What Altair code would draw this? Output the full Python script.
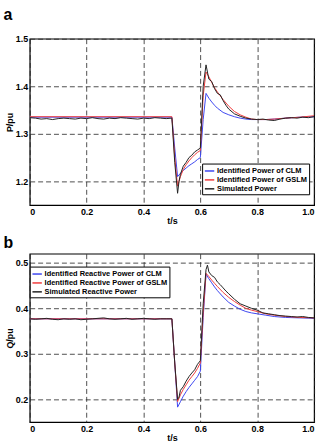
import altair as alt
import pandas as pd

# ---------------- data ----------------
t_model = [0.0, 0.5, 0.51, 0.52, 0.53, 0.54, 0.55, 0.56, 0.57, 0.58, 0.59, 0.6,
           0.61, 0.62, 0.63, 0.64, 0.65, 0.66, 0.68, 0.7, 0.72, 0.74, 0.76, 0.78,
           0.8, 0.83, 0.86, 0.9, 0.95, 1.0]

t_sim = [0.0, 0.02, 0.04, 0.06, 0.08, 0.1, 0.12, 0.14, 0.16, 0.18, 0.2, 0.22,
         0.24, 0.26, 0.28, 0.3, 0.32, 0.34, 0.36, 0.38, 0.4, 0.42, 0.44, 0.46, 0.48,
         0.5, 0.51, 0.52, 0.525, 0.53, 0.54, 0.55, 0.56, 0.57, 0.58, 0.59, 0.6,
         0.61, 0.62, 0.625, 0.63, 0.64, 0.65, 0.66, 0.67, 0.68, 0.69, 0.7, 0.72,
         0.74, 0.76, 0.78, 0.8, 0.82, 0.84, 0.86, 0.88, 0.9, 0.92, 0.94, 0.96, 0.98, 1.0]

p_clm = [1.335, 1.335, 1.27, 1.21, 1.217, 1.223, 1.228, 1.233, 1.237, 1.241, 1.246, 1.25,
         1.33, 1.385, 1.375, 1.367, 1.36, 1.354, 1.345, 1.34, 1.336, 1.333, 1.331, 1.33,
         1.33, 1.33, 1.331, 1.333, 1.335, 1.336]
p_gslm = [1.336, 1.336, 1.25, 1.19, 1.21, 1.225, 1.235, 1.243, 1.25, 1.256, 1.261, 1.265,
          1.38, 1.43, 1.42, 1.408, 1.397, 1.388, 1.372, 1.358, 1.347, 1.34, 1.335, 1.331,
          1.33, 1.33, 1.331, 1.333, 1.335, 1.338]
p_sim = [1.334, 1.333, 1.331, 1.332, 1.330, 1.332, 1.333, 1.332, 1.331, 1.333, 1.332, 1.334,
         1.332, 1.331, 1.333, 1.332, 1.334, 1.333, 1.332, 1.331, 1.333, 1.332, 1.334, 1.333, 1.332,
         1.333, 1.24, 1.175, 1.2, 1.215, 1.232, 1.24, 1.25, 1.255, 1.262, 1.266, 1.27,
         1.40, 1.445, 1.43, 1.415, 1.41, 1.395, 1.385, 1.382, 1.37, 1.36, 1.352, 1.342,
         1.337, 1.333, 1.331, 1.330, 1.331, 1.329, 1.328, 1.331, 1.333, 1.334, 1.333, 1.335, 1.334, 1.336]

q_clm = [0.377, 0.377, 0.28, 0.183, 0.195, 0.207, 0.217, 0.226, 0.234, 0.242, 0.25, 0.262,
         0.38, 0.475, 0.465, 0.456, 0.447, 0.439, 0.425, 0.413, 0.405, 0.398, 0.393, 0.39,
         0.388, 0.385, 0.382, 0.38, 0.379, 0.378]
q_gslm = [0.377, 0.377, 0.28, 0.195, 0.21, 0.222, 0.232, 0.242, 0.25, 0.258, 0.268, 0.28,
          0.39, 0.477, 0.47, 0.462, 0.455, 0.448, 0.435, 0.424, 0.415, 0.407, 0.4, 0.396,
          0.393, 0.388, 0.385, 0.382, 0.38, 0.379]
q_sim = [0.377, 0.376, 0.377, 0.378, 0.376, 0.375, 0.377, 0.376, 0.377, 0.375, 0.376, 0.377,
         0.378, 0.379, 0.377, 0.376, 0.377, 0.378, 0.376, 0.377, 0.378, 0.377, 0.376, 0.377, 0.377,
         0.377, 0.28, 0.2, 0.205, 0.22, 0.228, 0.24, 0.25, 0.258, 0.265, 0.277, 0.285,
         0.41, 0.485, 0.495, 0.48, 0.472, 0.468, 0.458, 0.452, 0.445, 0.438, 0.432, 0.42,
         0.41, 0.405, 0.4, 0.396, 0.39, 0.388, 0.386, 0.384, 0.383, 0.382, 0.381, 0.382, 0.38, 0.379]

names_p = ["Identified Power of CLM", "Identified Power of GSLM", "Simulated Power"]
names_q = ["Identified Reactive Power of CLM", "Identified Reactive Power of GSLM",
           "Simulated Reactive Power"]
colors = ["#3d46f0", "#f03c3c", "#222222"]

x_ticks = [0, 0.2, 0.4, 0.6, 0.8, 1.0]
p_ticks = [1.2, 1.3, 1.4, 1.5]
q_ticks = [0.2, 0.3, 0.4, 0.5]

FONT = "Liberation Sans"


def make_df(names, clm, gslm, sim):
    rows = []
    for i, (tt, v) in enumerate(zip(t_model, clm)):
        rows.append({"t": tt, "v": v, "s": names[0], "i": i})
    for i, (tt, v) in enumerate(zip(t_model, gslm)):
        rows.append({"t": tt, "v": v, "s": names[1], "i": i})
    for i, (tt, v) in enumerate(zip(t_sim, sim)):
        rows.append({"t": tt, "v": v, "s": names[2], "i": i})
    return pd.DataFrame(rows)


def panel(df, names, ydom, yticks, ytitle, label, lx, ly, height, toff):
    return alt.Chart(df).mark_line(strokeWidth=1, clip=True).encode(
        x=alt.X("t:Q", scale=alt.Scale(domain=[0, 1], nice=False),
                axis=alt.Axis(values=x_ticks, title="t/s",
                              labelExpr="datum.value == 0 ? '0' : format(datum.value, '.1f')")),
        y=alt.Y("v:Q", scale=alt.Scale(domain=ydom, nice=False, zero=False),
                axis=alt.Axis(values=yticks, title=ytitle, format=".1f")),
        color=alt.Color("s:N", scale=alt.Scale(domain=names, range=colors),
                        legend=alt.Legend(orient="none", legendX=lx, legendY=ly, title=None,
                                          strokeColor="black", fillColor="white",
                                          padding=2, symbolType="stroke", symbolSize=90,
                                          symbolStrokeWidth=1.5, labelFontSize=7.5,
                                          labelFont=FONT, labelFontWeight="bold",
                                          rowPadding=0, labelOffset=2, cornerRadius=0)),
        order=alt.Order("i:Q"),
    ).properties(
        width=287, height=height,
        title=alt.TitleParams(label, anchor="start", frame="bounds", fontSize=16,
                              fontWeight="bold", font=FONT, offset=toff, dx=-2),
    )


df_p = make_df(names_p, p_clm, p_gslm, p_sim)
df_q = make_df(names_q, q_clm, q_gslm, q_sim)

ca = panel(df_p, names_p, [1.15, 1.5], p_ticks, "P/pu", "a", 174, 126, 168, 12)
cb = panel(df_q, names_q, [0.15, 0.52], q_ticks, "Q/pu", "b", 0, 13, 170, 3)

chart = alt.vconcat(ca, cb, spacing=7).resolve_scale(color="independent").resolve_legend(
    color="independent"
).configure(
    padding={"left": 2, "top": 4, "right": 8, "bottom": 0},
).configure_view(
    stroke="black", strokeWidth=1.2
).configure_axis(
    grid=True, gridColor="#222", gridDash=[5, 3], gridWidth=0.8, gridOpacity=1,
    domain=False, ticks=False, labelFont=FONT, labelFontWeight="bold", labelFontSize=9,
    labelColor="black", titleFont=FONT, titleFontWeight="bold", titleFontSize=9,
    titleColor="black", labelPadding=2, titlePadding=1,
)

chart.save("out.html", embed_options={"renderer": "svg", "actions": False})
